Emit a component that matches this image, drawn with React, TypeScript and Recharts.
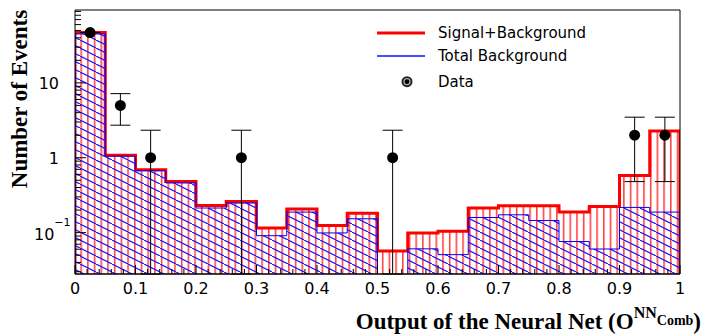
import React from "react";
import {
  Area,
  ComposedChart,
  ErrorBar,
  Legend,
  ReferenceLine,
  Scatter,
  XAxis,
  YAxis,
} from "recharts";

// histogram bins (lower edges, width 0.05)
const binLow = [
  0, 0.05, 0.1, 0.15, 0.2, 0.25, 0.3, 0.35, 0.4, 0.45,
  0.5, 0.55, 0.6, 0.65, 0.7, 0.75, 0.8, 0.85, 0.9, 0.95,
];
const sigPlusBkg = [
  47, 1.08, 0.69, 0.48, 0.23, 0.26, 0.115, 0.206, 0.124, 0.182,
  0.057, 0.099, 0.104, 0.213, 0.228, 0.228, 0.188, 0.223, 0.579, 2.28,
];
const totalBkg = [
  45, 1.05, 0.67, 0.46, 0.213, 0.248, 0.091, 0.188, 0.099, 0.153,
  0.02, 0.0607, 0.0508, 0.159, 0.173, 0.145, 0.076, 0.0604, 0.217, 0.188,
];

// observed data
const dataX = [0.025, 0.075, 0.125, 0.275, 0.525, 0.925, 0.975];
const dataN = [47, 5, 1, 1, 1, 2, 2];
const dataErrLow = [0, 2.28, 0.972, 0.972, 0.972, 1.52, 1.52];
const dataErrHigh = [0, 2.18, 1.33, 1.33, 1.33, 1.48, 1.48];

const Y_MIN = 0.028;
const Y_MAX = 94;
const yMajor = [0.1, 1, 10];

const xTicks: number[] = [];
for (let i = 0; i <= 50; i++) xTicks.push(i / 50);
const yTicks: number[] = [];
[0.01, 0.1, 1, 10].forEach((d) => {
  for (let m = 1; m <= 9; m++) {
    const v = +(d * m).toPrecision(3);
    if (v >= Y_MIN && v <= Y_MAX) yTicks.push(v);
  }
});

const last = binLow.length - 1;
const histRows = [
  { x: 0, sb: Y_MIN, bkg: Y_MIN },
  ...binLow.map((x, i) => ({ x, sb: sigPlusBkg[i], bkg: totalBkg[i] })),
  { x: 1, sb: sigPlusBkg[last], bkg: totalBkg[last] },
  { x: 1, sb: Y_MIN, bkg: Y_MIN },
];

const points = dataX.map((x, i) => ({
  x,
  y: dataN[i],
  err: [dataErrLow[i], dataErrHigh[i]],
}));

const tickFont = "'DejaVu Sans', sans-serif";
const titleFont = "'Liberation Serif', 'Times New Roman', serif";

function XTick(props: any) {
  const { x, y, payload } = props;
  const v = payload.value as number;
  const major = Math.round(v * 50) % 5 === 0;
  const label = v === 0 ? "0" : v === 1 ? "1" : v.toFixed(1);
  return (
    <g>
      <line x1={x} x2={x} y1={y} y2={y - (major ? 9 : 5)} stroke="#000" strokeWidth={1} />
      {major ? (
        <text x={x} y={y + 19.5} textAnchor="middle" fontFamily={tickFont} fontSize={16} fill="#000">
          {label}
        </text>
      ) : null}
    </g>
  );
}

function YTick(props: any) {
  const { x, y, payload } = props;
  const v = payload.value as number;
  const major = yMajor.some((m) => Math.abs(m - v) < 1e-9);
  let label: React.ReactNode = null;
  if (major) {
    if (v === 0.1) {
      label = (
        <text x={x - 41} y={y + 7} fontFamily={tickFont} fontSize={16} fill="#000">
          10
          <tspan fontSize={11} dy={-14}>
            −1
          </tspan>
        </text>
      );
    } else {
      label = (
        <text x={x - 16} y={y + 5.8} textAnchor="end" fontFamily={tickFont} fontSize={16} fill="#000">
          {v === 1 ? "1" : "10"}
        </text>
      );
    }
  }
  return (
    <g>
      <line x1={x} x2={x + (major ? 11 : 6)} y1={y} y2={y} stroke="#000" strokeWidth={1} />
      {label}
    </g>
  );
}

function DataDot(props: any) {
  const { cx, cy } = props;
  if (cx == null || cy == null) return <g />;
  return <circle cx={cx} cy={cy} r={5.5} fill="#000" />;
}

function renderLegend() {
  const txt: React.CSSProperties = {
    position: "absolute",
    left: 68,
    fontFamily: tickFont,
    fontSize: 15,
    lineHeight: "18px",
    color: "#000",
    whiteSpace: "nowrap",
  };
  return (
    <div style={{ position: "relative", width: 240, height: 80 }}>
      <svg width={60} height={80} style={{ position: "absolute", left: 0, top: 0 }}>
        <line x1={7} x2={55} y1={13} y2={13} stroke="#ff0000" strokeWidth={3} />
        <line x1={7} x2={55} y1={36} y2={36} stroke="#1010ff" strokeWidth={1.3} />
        <circle cx={37} cy={61.7} r={5.5} fill="#222" />
        <circle cx={37} cy={61.7} r={3} fill="#000" stroke="#aaa" strokeWidth={1.2} />
      </svg>
      <div style={{ ...txt, top: 4 }}>Signal+Background</div>
      <div style={{ ...txt, top: 26.5 }}>Total Background</div>
      <div style={{ ...txt, top: 52.5 }}>Data</div>
    </div>
  );
}

function YTitle() {
  return (
    <text
      transform="translate(27, 99) rotate(-90)"
      textAnchor="middle"
      fontFamily={titleFont}
      fontWeight="bold"
      fontSize={23}
      fill="#000"
    >
      Number of Events
    </text>
  );
}

function XTitle() {
  return (
    <text x={701} y={329} textAnchor="end" fontFamily={titleFont} fontWeight="bold" fontSize={23} fill="#000">
      Output of the Neural Net (O
      <tspan fontSize={16} dy={-11}>
        NN
      </tspan>
      <tspan fontSize={14} dy={7}>
        Comb
      </tspan>
      <tspan dy={4}>)</tspan>
    </text>
  );
}

export default function App() {
  return (
    <div style={{ position: "absolute", left: 0, top: 0, width: 701, height: 335, background: "#fff" }}>
      <ComposedChart
        width={701}
        height={335}
        data={histRows}
        margin={{ top: 10, right: 21, left: 15, bottom: 31 }}
      >
        <defs>
          <pattern id="redHatch" patternUnits="userSpaceOnUse" width={6.7} height={10}>
            <line x1={0.8} x2={0.8} y1={0} y2={10} stroke="#ff2a2a" strokeWidth={1.4} />
          </pattern>
          <pattern id="blueHatch" patternUnits="userSpaceOnUse" width={16} height={8}>
            <line x1={-1} y1={-0.5} x2={17} y2={8.5} stroke="#1a1aff" strokeWidth={1.2} />
          </pattern>
        </defs>
        <XAxis
          dataKey="x"
          type="number"
          domain={[0, 1]}
          ticks={xTicks}
          interval={0}
          tick={XTick}
          tickLine={false}
          tickSize={0}
          tickMargin={0}
          axisLine={{ stroke: "#000", strokeWidth: 1.5 }}
          height={30}
          allowDataOverflow
          label={{ content: XTitle }}
        />
        <YAxis
          type="number"
          scale="log"
          domain={[Y_MIN, Y_MAX]}
          ticks={yTicks}
          interval={0}
          tick={YTick}
          tickLine={false}
          tickSize={0}
          tickMargin={0}
          axisLine={{ stroke: "#000", strokeWidth: 1 }}
          width={60}
          allowDataOverflow
          label={{ content: YTitle }}
        />
        <Area
          type="stepAfter"
          dataKey="sb"
          stroke="#ff0000"
          strokeWidth={3}
          fill="url(#redHatch)"
          fillOpacity={1}
          isAnimationActive={false}
          dot={false}
          activeDot={false}
        />
        <Area
          type="stepAfter"
          dataKey="bkg"
          stroke="#0000ff"
          strokeWidth={1}
          fill="url(#blueHatch)"
          fillOpacity={1}
          isAnimationActive={false}
          dot={false}
          activeDot={false}
        />
        <Scatter data={points} dataKey="y" shape={DataDot} isAnimationActive={false}>
          <ErrorBar dataKey="err" direction="y" width={10} stroke="#000" strokeWidth={1} isAnimationActive={false} />
        </Scatter>
        <ReferenceLine y={Y_MAX} stroke="#000" strokeWidth={1} />
        <ReferenceLine x={1} stroke="#000" strokeWidth={1} />
        <Legend
          content={renderLegend}
          layout="horizontal"
          verticalAlign="middle"
          align="center"
          wrapperStyle={{ left: 370, top: 20, width: 240 }}
        />
      </ComposedChart>
    </div>
  );
}
